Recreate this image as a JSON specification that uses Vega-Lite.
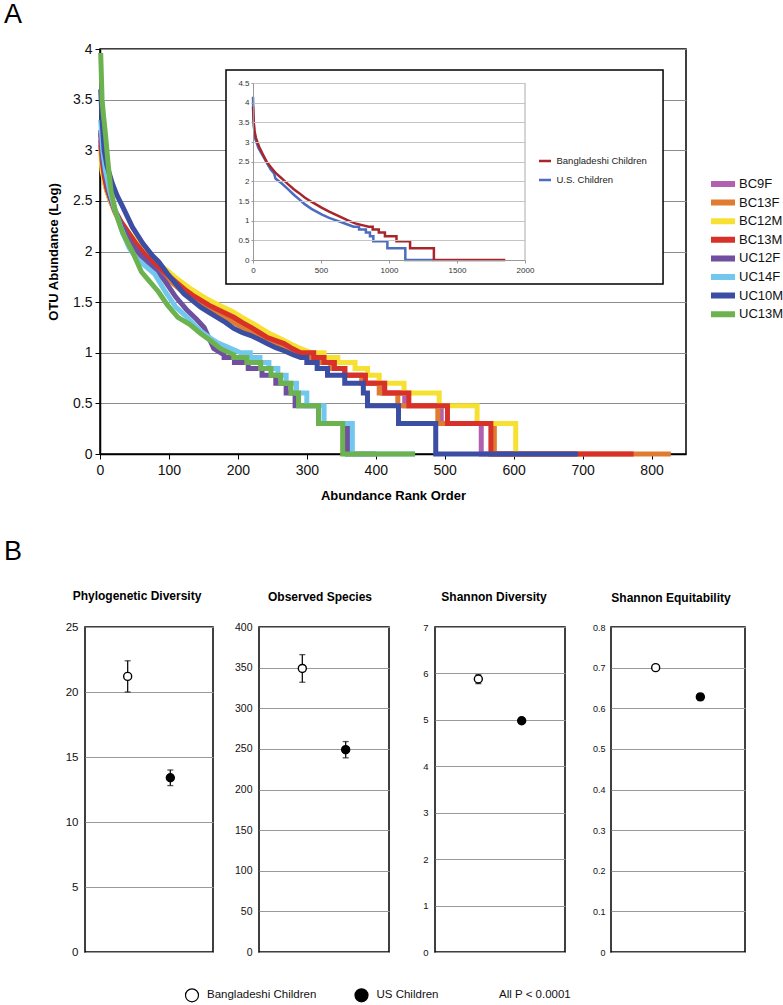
{
  "$schema": "https://vega.github.io/schema/vega-lite/v6.json",
  "padding": {"left": 3, "top": 0, "right": 0, "bottom": 0},
  "config": {
    "font": "Liberation Sans",
    "view": {"stroke": "#000", "strokeWidth": 1.5},
    "axis": {"labelFont": "Liberation Sans", "titleFont": "Liberation Sans", "labelColor": "#111", "titleColor": "#000", "domainColor": "#000", "tickColor": "#000", "gridColor": "#999", "labelFlush": false, "labelOverlap": false},
    "legend": {"labelFont": "Liberation Sans"},
    "title": {"font": "Liberation Sans", "color": "#000"}
  },
  "datasets": {
    "main": [
      {"s":"BC9F","r":1,"v":3.1},{"s":"BC9F","r":3,"v":2.85},{"s":"BC9F","r":6,"v":2.72},{"s":"BC9F","r":10,"v":2.6},{"s":"BC9F","r":15,"v":2.5},{"s":"BC9F","r":22,"v":2.4},{"s":"BC9F","r":30,"v":2.29},{"s":"BC9F","r":40,"v":2.18},{"s":"BC9F","r":52,"v":2.06},{"s":"BC9F","r":64,"v":1.96},{"s":"BC9F","r":75,"v":1.88},{"s":"BC9F","r":86,"v":1.82},{"s":"BC9F","r":98,"v":1.75},{"s":"BC9F","r":110,"v":1.68},{"s":"BC9F","r":122,"v":1.61},{"s":"BC9F","r":134,"v":1.55},{"s":"BC9F","r":146,"v":1.5},{"s":"BC9F","r":158,"v":1.45},{"s":"BC9F","r":170,"v":1.41},{"s":"BC9F","r":182,"v":1.37},{"s":"BC9F","r":194,"v":1.33},{"s":"BC9F","r":206,"v":1.28},{"s":"BC9F","r":219,"v":1.23},{"s":"BC9F","r":231,"v":1.18},{"s":"BC9F","r":243,"v":1.14},{"s":"BC9F","r":255,"v":1.1},{"s":"BC9F","r":267,"v":1.06},{"s":"BC9F","r":279,"v":1.02},{"s":"BC9F","r":285,"v":1.0},{"s":"BC9F","r":295,"v":1.0},{"s":"BC9F","r":295,"v":0.954},{"s":"BC9F","r":315,"v":0.954},{"s":"BC9F","r":315,"v":0.903},{"s":"BC9F","r":335,"v":0.903},{"s":"BC9F","r":335,"v":0.845},{"s":"BC9F","r":355,"v":0.845},{"s":"BC9F","r":355,"v":0.778},{"s":"BC9F","r":380,"v":0.778},{"s":"BC9F","r":380,"v":0.699},{"s":"BC9F","r":410,"v":0.699},{"s":"BC9F","r":410,"v":0.602},{"s":"BC9F","r":442,"v":0.602},{"s":"BC9F","r":442,"v":0.477},{"s":"BC9F","r":495,"v":0.477},{"s":"BC9F","r":495,"v":0.301},{"s":"BC9F","r":553,"v":0.301},{"s":"BC9F","r":553,"v":0},{"s":"BC9F","r":690,"v":0},
      {"s":"BC13F","r":1,"v":3.05},{"s":"BC13F","r":3,"v":2.85},{"s":"BC13F","r":6,"v":2.7},{"s":"BC13F","r":10,"v":2.6},{"s":"BC13F","r":15,"v":2.5},{"s":"BC13F","r":22,"v":2.38},{"s":"BC13F","r":30,"v":2.28},{"s":"BC13F","r":40,"v":2.17},{"s":"BC13F","r":52,"v":2.05},{"s":"BC13F","r":64,"v":1.95},{"s":"BC13F","r":75,"v":1.87},{"s":"BC13F","r":86,"v":1.8},{"s":"BC13F","r":98,"v":1.73},{"s":"BC13F","r":110,"v":1.66},{"s":"BC13F","r":122,"v":1.59},{"s":"BC13F","r":134,"v":1.53},{"s":"BC13F","r":146,"v":1.48},{"s":"BC13F","r":158,"v":1.43},{"s":"BC13F","r":170,"v":1.39},{"s":"BC13F","r":182,"v":1.34},{"s":"BC13F","r":194,"v":1.3},{"s":"BC13F","r":206,"v":1.25},{"s":"BC13F","r":219,"v":1.2},{"s":"BC13F","r":231,"v":1.15},{"s":"BC13F","r":243,"v":1.11},{"s":"BC13F","r":255,"v":1.07},{"s":"BC13F","r":267,"v":1.041},{"s":"BC13F","r":279,"v":1.0},{"s":"BC13F","r":300,"v":1.0},{"s":"BC13F","r":300,"v":0.954},{"s":"BC13F","r":315,"v":0.954},{"s":"BC13F","r":315,"v":0.903},{"s":"BC13F","r":335,"v":0.903},{"s":"BC13F","r":335,"v":0.845},{"s":"BC13F","r":355,"v":0.845},{"s":"BC13F","r":355,"v":0.778},{"s":"BC13F","r":380,"v":0.778},{"s":"BC13F","r":380,"v":0.699},{"s":"BC13F","r":405,"v":0.699},{"s":"BC13F","r":405,"v":0.602},{"s":"BC13F","r":432,"v":0.602},{"s":"BC13F","r":432,"v":0.477},{"s":"BC13F","r":490,"v":0.477},{"s":"BC13F","r":490,"v":0.301},{"s":"BC13F","r":572,"v":0.301},{"s":"BC13F","r":572,"v":0},{"s":"BC13F","r":828,"v":0},
      {"s":"BC12M","r":1,"v":3.0},{"s":"BC12M","r":3,"v":2.8},{"s":"BC12M","r":6,"v":2.7},{"s":"BC12M","r":10,"v":2.6},{"s":"BC12M","r":15,"v":2.5},{"s":"BC12M","r":22,"v":2.4},{"s":"BC12M","r":30,"v":2.3},{"s":"BC12M","r":40,"v":2.2},{"s":"BC12M","r":52,"v":2.1},{"s":"BC12M","r":64,"v":2.0},{"s":"BC12M","r":75,"v":1.93},{"s":"BC12M","r":86,"v":1.87},{"s":"BC12M","r":98,"v":1.81},{"s":"BC12M","r":110,"v":1.74},{"s":"BC12M","r":122,"v":1.68},{"s":"BC12M","r":134,"v":1.62},{"s":"BC12M","r":146,"v":1.57},{"s":"BC12M","r":158,"v":1.52},{"s":"BC12M","r":170,"v":1.48},{"s":"BC12M","r":182,"v":1.44},{"s":"BC12M","r":194,"v":1.4},{"s":"BC12M","r":206,"v":1.35},{"s":"BC12M","r":219,"v":1.3},{"s":"BC12M","r":231,"v":1.25},{"s":"BC12M","r":243,"v":1.2},{"s":"BC12M","r":255,"v":1.16},{"s":"BC12M","r":267,"v":1.12},{"s":"BC12M","r":279,"v":1.08},{"s":"BC12M","r":291,"v":1.04},{"s":"BC12M","r":308,"v":1.0},{"s":"BC12M","r":325,"v":1.0},{"s":"BC12M","r":325,"v":0.954},{"s":"BC12M","r":345,"v":0.954},{"s":"BC12M","r":345,"v":0.903},{"s":"BC12M","r":370,"v":0.903},{"s":"BC12M","r":370,"v":0.845},{"s":"BC12M","r":388,"v":0.845},{"s":"BC12M","r":388,"v":0.778},{"s":"BC12M","r":405,"v":0.778},{"s":"BC12M","r":405,"v":0.699},{"s":"BC12M","r":441,"v":0.699},{"s":"BC12M","r":441,"v":0.602},{"s":"BC12M","r":492,"v":0.602},{"s":"BC12M","r":492,"v":0.477},{"s":"BC12M","r":547,"v":0.477},{"s":"BC12M","r":547,"v":0.301},{"s":"BC12M","r":603,"v":0.301},{"s":"BC12M","r":603,"v":0},{"s":"BC12M","r":700,"v":0},
      {"s":"BC13M","r":1,"v":3.17},{"s":"BC13M","r":3,"v":2.9},{"s":"BC13M","r":6,"v":2.75},{"s":"BC13M","r":10,"v":2.62},{"s":"BC13M","r":15,"v":2.52},{"s":"BC13M","r":22,"v":2.4},{"s":"BC13M","r":30,"v":2.3},{"s":"BC13M","r":40,"v":2.2},{"s":"BC13M","r":52,"v":2.08},{"s":"BC13M","r":64,"v":1.98},{"s":"BC13M","r":75,"v":1.9},{"s":"BC13M","r":86,"v":1.84},{"s":"BC13M","r":98,"v":1.77},{"s":"BC13M","r":110,"v":1.7},{"s":"BC13M","r":122,"v":1.63},{"s":"BC13M","r":134,"v":1.57},{"s":"BC13M","r":146,"v":1.52},{"s":"BC13M","r":158,"v":1.47},{"s":"BC13M","r":170,"v":1.43},{"s":"BC13M","r":182,"v":1.39},{"s":"BC13M","r":194,"v":1.35},{"s":"BC13M","r":206,"v":1.3},{"s":"BC13M","r":219,"v":1.25},{"s":"BC13M","r":231,"v":1.2},{"s":"BC13M","r":243,"v":1.15},{"s":"BC13M","r":255,"v":1.12},{"s":"BC13M","r":267,"v":1.09},{"s":"BC13M","r":279,"v":1.041},{"s":"BC13M","r":291,"v":1.0},{"s":"BC13M","r":310,"v":1.0},{"s":"BC13M","r":310,"v":0.954},{"s":"BC13M","r":325,"v":0.954},{"s":"BC13M","r":325,"v":0.903},{"s":"BC13M","r":340,"v":0.903},{"s":"BC13M","r":340,"v":0.845},{"s":"BC13M","r":355,"v":0.845},{"s":"BC13M","r":355,"v":0.778},{"s":"BC13M","r":385,"v":0.778},{"s":"BC13M","r":385,"v":0.699},{"s":"BC13M","r":413,"v":0.699},{"s":"BC13M","r":413,"v":0.602},{"s":"BC13M","r":448,"v":0.602},{"s":"BC13M","r":448,"v":0.477},{"s":"BC13M","r":504,"v":0.477},{"s":"BC13M","r":504,"v":0.301},{"s":"BC13M","r":567,"v":0.301},{"s":"BC13M","r":567,"v":0},{"s":"BC13M","r":774,"v":0},
      {"s":"UC12F","r":1,"v":3.2},{"s":"UC12F","r":4,"v":2.9},{"s":"UC12F","r":8,"v":2.75},{"s":"UC12F","r":14,"v":2.55},{"s":"UC12F","r":22,"v":2.4},{"s":"UC12F","r":32,"v":2.25},{"s":"UC12F","r":45,"v":2.08},{"s":"UC12F","r":60,"v":1.95},{"s":"UC12F","r":75,"v":1.85},{"s":"UC12F","r":93,"v":1.72},{"s":"UC12F","r":110,"v":1.55},{"s":"UC12F","r":125,"v":1.43},{"s":"UC12F","r":140,"v":1.33},{"s":"UC12F","r":151,"v":1.25},{"s":"UC12F","r":158,"v":1.146},{"s":"UC12F","r":165,"v":1.041},{"s":"UC12F","r":180,"v":0.98},{"s":"UC12F","r":180,"v":0.954},{"s":"UC12F","r":195,"v":0.954},{"s":"UC12F","r":195,"v":0.903},{"s":"UC12F","r":215,"v":0.903},{"s":"UC12F","r":215,"v":0.845},{"s":"UC12F","r":235,"v":0.845},{"s":"UC12F","r":235,"v":0.778},{"s":"UC12F","r":255,"v":0.778},{"s":"UC12F","r":255,"v":0.699},{"s":"UC12F","r":270,"v":0.699},{"s":"UC12F","r":270,"v":0.602},{"s":"UC12F","r":283,"v":0.602},{"s":"UC12F","r":283,"v":0.477},{"s":"UC12F","r":317,"v":0.477},{"s":"UC12F","r":317,"v":0.301},{"s":"UC12F","r":359,"v":0.301},{"s":"UC12F","r":359,"v":0},{"s":"UC12F","r":400,"v":0},
      {"s":"UC14F","r":1,"v":3.3},{"s":"UC14F","r":4,"v":3.0},{"s":"UC14F","r":8,"v":2.8},{"s":"UC14F","r":14,"v":2.6},{"s":"UC14F","r":20,"v":2.45},{"s":"UC14F","r":30,"v":2.24},{"s":"UC14F","r":42,"v":2.04},{"s":"UC14F","r":52,"v":1.94},{"s":"UC14F","r":65,"v":1.86},{"s":"UC14F","r":79,"v":1.78},{"s":"UC14F","r":95,"v":1.6},{"s":"UC14F","r":110,"v":1.45},{"s":"UC14F","r":125,"v":1.36},{"s":"UC14F","r":145,"v":1.22},{"s":"UC14F","r":160,"v":1.146},{"s":"UC14F","r":170,"v":1.1},{"s":"UC14F","r":190,"v":1.041},{"s":"UC14F","r":204,"v":1.0},{"s":"UC14F","r":218,"v":1.0},{"s":"UC14F","r":218,"v":0.954},{"s":"UC14F","r":232,"v":0.954},{"s":"UC14F","r":232,"v":0.903},{"s":"UC14F","r":245,"v":0.903},{"s":"UC14F","r":245,"v":0.845},{"s":"UC14F","r":258,"v":0.845},{"s":"UC14F","r":258,"v":0.778},{"s":"UC14F","r":270,"v":0.778},{"s":"UC14F","r":270,"v":0.699},{"s":"UC14F","r":285,"v":0.699},{"s":"UC14F","r":285,"v":0.602},{"s":"UC14F","r":300,"v":0.602},{"s":"UC14F","r":300,"v":0.477},{"s":"UC14F","r":325,"v":0.477},{"s":"UC14F","r":325,"v":0.301},{"s":"UC14F","r":366,"v":0.301},{"s":"UC14F","r":366,"v":0},{"s":"UC14F","r":457,"v":0},
      {"s":"UC10M","r":1,"v":3.6},{"s":"UC10M","r":3,"v":3.3},{"s":"UC10M","r":6,"v":3.0},{"s":"UC10M","r":10,"v":2.85},{"s":"UC10M","r":18,"v":2.67},{"s":"UC10M","r":25,"v":2.55},{"s":"UC10M","r":33,"v":2.44},{"s":"UC10M","r":47,"v":2.24},{"s":"UC10M","r":62,"v":2.08},{"s":"UC10M","r":76,"v":1.96},{"s":"UC10M","r":85,"v":1.9},{"s":"UC10M","r":98,"v":1.78},{"s":"UC10M","r":110,"v":1.68},{"s":"UC10M","r":122,"v":1.58},{"s":"UC10M","r":135,"v":1.51},{"s":"UC10M","r":146,"v":1.45},{"s":"UC10M","r":158,"v":1.4},{"s":"UC10M","r":170,"v":1.35},{"s":"UC10M","r":182,"v":1.3},{"s":"UC10M","r":194,"v":1.24},{"s":"UC10M","r":206,"v":1.2},{"s":"UC10M","r":219,"v":1.17},{"s":"UC10M","r":231,"v":1.13},{"s":"UC10M","r":243,"v":1.09},{"s":"UC10M","r":255,"v":1.05},{"s":"UC10M","r":267,"v":1.02},{"s":"UC10M","r":280,"v":0.98},{"s":"UC10M","r":291,"v":0.954},{"s":"UC10M","r":300,"v":0.954},{"s":"UC10M","r":300,"v":0.903},{"s":"UC10M","r":315,"v":0.903},{"s":"UC10M","r":315,"v":0.845},{"s":"UC10M","r":330,"v":0.845},{"s":"UC10M","r":330,"v":0.778},{"s":"UC10M","r":355,"v":0.778},{"s":"UC10M","r":355,"v":0.699},{"s":"UC10M","r":382,"v":0.699},{"s":"UC10M","r":382,"v":0.602},{"s":"UC10M","r":388,"v":0.602},{"s":"UC10M","r":388,"v":0.477},{"s":"UC10M","r":433,"v":0.477},{"s":"UC10M","r":433,"v":0.301},{"s":"UC10M","r":487,"v":0.301},{"s":"UC10M","r":487,"v":0},{"s":"UC10M","r":693,"v":0},
      {"s":"UC13M","r":1,"v":3.96},{"s":"UC13M","r":3,"v":3.5},{"s":"UC13M","r":5,"v":3.35},{"s":"UC13M","r":8,"v":3.15},{"s":"UC13M","r":12,"v":2.85},{"s":"UC13M","r":16,"v":2.6},{"s":"UC13M","r":23,"v":2.38},{"s":"UC13M","r":33,"v":2.18},{"s":"UC13M","r":47,"v":2.0},{"s":"UC13M","r":60,"v":1.8},{"s":"UC13M","r":70,"v":1.72},{"s":"UC13M","r":85,"v":1.6},{"s":"UC13M","r":98,"v":1.47},{"s":"UC13M","r":113,"v":1.35},{"s":"UC13M","r":130,"v":1.28},{"s":"UC13M","r":146,"v":1.19},{"s":"UC13M","r":160,"v":1.12},{"s":"UC13M","r":175,"v":1.04},{"s":"UC13M","r":194,"v":0.98},{"s":"UC13M","r":194,"v":0.954},{"s":"UC13M","r":213,"v":0.954},{"s":"UC13M","r":213,"v":0.903},{"s":"UC13M","r":233,"v":0.903},{"s":"UC13M","r":233,"v":0.845},{"s":"UC13M","r":248,"v":0.845},{"s":"UC13M","r":248,"v":0.778},{"s":"UC13M","r":262,"v":0.778},{"s":"UC13M","r":262,"v":0.699},{"s":"UC13M","r":277,"v":0.699},{"s":"UC13M","r":277,"v":0.602},{"s":"UC13M","r":288,"v":0.602},{"s":"UC13M","r":288,"v":0.477},{"s":"UC13M","r":317,"v":0.477},{"s":"UC13M","r":317,"v":0.301},{"s":"UC13M","r":352,"v":0.301},{"s":"UC13M","r":352,"v":0},{"s":"UC13M","r":457,"v":0}
    ],
    "inset": [
      {"s":"U.S. Children","r":0,"v":4.15},{"s":"U.S. Children","r":3,"v":3.7},{"s":"U.S. Children","r":8,"v":3.35},{"s":"U.S. Children","r":15,"v":3.1},{"s":"U.S. Children","r":40,"v":2.85},{"s":"U.S. Children","r":72,"v":2.65},{"s":"U.S. Children","r":100,"v":2.48},{"s":"U.S. Children","r":130,"v":2.3},{"s":"U.S. Children","r":155,"v":2.2},{"s":"U.S. Children","r":165,"v":2.07},{"s":"U.S. Children","r":210,"v":1.95},{"s":"U.S. Children","r":257,"v":1.8},{"s":"U.S. Children","r":300,"v":1.66},{"s":"U.S. Children","r":340,"v":1.54},{"s":"U.S. Children","r":380,"v":1.42},{"s":"U.S. Children","r":430,"v":1.3},{"s":"U.S. Children","r":504,"v":1.16},{"s":"U.S. Children","r":560,"v":1.07},{"s":"U.S. Children","r":627,"v":0.99},{"s":"U.S. Children","r":690,"v":0.91},{"s":"U.S. Children","r":740,"v":0.845},{"s":"U.S. Children","r":780,"v":0.845},{"s":"U.S. Children","r":780,"v":0.778},{"s":"U.S. Children","r":830,"v":0.778},{"s":"U.S. Children","r":830,"v":0.699},{"s":"U.S. Children","r":860,"v":0.699},{"s":"U.S. Children","r":860,"v":0.602},{"s":"U.S. Children","r":885,"v":0.602},{"s":"U.S. Children","r":885,"v":0.477},{"s":"U.S. Children","r":988,"v":0.477},{"s":"U.S. Children","r":988,"v":0.301},{"s":"U.S. Children","r":1120,"v":0.301},{"s":"U.S. Children","r":1120,"v":0},{"s":"U.S. Children","r":1325,"v":0},
      {"s":"Bangladeshi Children","r":0,"v":3.9},{"s":"Bangladeshi Children","r":5,"v":3.5},{"s":"Bangladeshi Children","r":10,"v":3.3},{"s":"Bangladeshi Children","r":22,"v":3.1},{"s":"Bangladeshi Children","r":45,"v":2.88},{"s":"Bangladeshi Children","r":72,"v":2.69},{"s":"Bangladeshi Children","r":100,"v":2.5},{"s":"Bangladeshi Children","r":133,"v":2.35},{"s":"Bangladeshi Children","r":170,"v":2.2},{"s":"Bangladeshi Children","r":210,"v":2.08},{"s":"Bangladeshi Children","r":257,"v":1.93},{"s":"Bangladeshi Children","r":300,"v":1.8},{"s":"Bangladeshi Children","r":340,"v":1.7},{"s":"Bangladeshi Children","r":380,"v":1.59},{"s":"Bangladeshi Children","r":420,"v":1.5},{"s":"Bangladeshi Children","r":460,"v":1.42},{"s":"Bangladeshi Children","r":504,"v":1.33},{"s":"Bangladeshi Children","r":560,"v":1.23},{"s":"Bangladeshi Children","r":627,"v":1.12},{"s":"Bangladeshi Children","r":690,"v":1.02},{"s":"Bangladeshi Children","r":751,"v":0.93},{"s":"Bangladeshi Children","r":810,"v":0.88},{"s":"Bangladeshi Children","r":850,"v":0.845},{"s":"Bangladeshi Children","r":880,"v":0.845},{"s":"Bangladeshi Children","r":880,"v":0.778},{"s":"Bangladeshi Children","r":925,"v":0.778},{"s":"Bangladeshi Children","r":925,"v":0.699},{"s":"Bangladeshi Children","r":970,"v":0.699},{"s":"Bangladeshi Children","r":970,"v":0.602},{"s":"Bangladeshi Children","r":1055,"v":0.602},{"s":"Bangladeshi Children","r":1055,"v":0.477},{"s":"Bangladeshi Children","r":1155,"v":0.477},{"s":"Bangladeshi Children","r":1155,"v":0.301},{"s":"Bangladeshi Children","r":1330,"v":0.301},{"s":"Bangladeshi Children","r":1330,"v":0},{"s":"Bangladeshi Children","r":1855,"v":0}
    ],
    "div": [
      {"m":"PD","g":"Bangladeshi Children","v":21.2,"lo":20.0,"hi":22.4},
      {"m":"PD","g":"US Children","v":13.4,"lo":12.8,"hi":14.0},
      {"m":"OS","g":"Bangladeshi Children","v":349,"lo":332,"hi":366},
      {"m":"OS","g":"US Children","v":249,"lo":239,"hi":259},
      {"m":"SD","g":"Bangladeshi Children","v":5.88,"lo":5.78,"hi":5.97},
      {"m":"SD","g":"US Children","v":4.98,"lo":4.93,"hi":5.03},
      {"m":"SE","g":"Bangladeshi Children","v":0.700,"lo":0.695,"hi":0.705},
      {"m":"SE","g":"US Children","v":0.628,"lo":0.620,"hi":0.636}
    ]
  },
  "resolve": {"scale": {"color": "independent", "stroke": "independent", "fill": "independent"}},
  "spacing": 35,
  "vconcat": [
    {
      "bounds": "flush",
      "spacing": 14,
      "resolve": {"scale": {"color": "independent", "stroke": "independent"}},
      "hconcat": [
        {
          "width": 1, "height": 1,
          "view": {"stroke": null},
          "data": {"values": []},
          "mark": "point"
        },
        {
          "title": {"text": "A", "anchor": "start", "frame": "group", "fontSize": 27, "fontWeight": "normal", "dx": -96, "offset": 13},
          "width": 586,
          "height": 405,
          "resolve": {"scale": {"x": "independent", "y": "independent"}},
          "layer": [
            {
              "data": {"name": "main"},
              "mark": {"type": "line", "strokeWidth": 5},
              "encoding": {
                "x": {"field": "r", "type": "quantitative", "scale": {"domain": [0, 850], "nice": false, "zero": false},
                      "axis": {"title": "Abundance Rank Order", "values": [0,100,200,300,400,500,600,700,800], "grid": false, "labelFontSize": 14, "tickSize": 5, "labelPadding": 4, "titleFontSize": 13, "titleFontWeight": "bold", "titlePadding": 12, "domainWidth": 1.5}},
                "y": {"field": "v", "type": "quantitative", "scale": {"domain": [0, 4], "nice": false},
                      "axis": {"title": "OTU Abundance (Log)", "values": [0,0.5,1,1.5,2,2.5,3,3.5,4], "format": ".1~f", "grid": true, "gridColor": "#8c8c8c", "labelFontSize": 14, "tickSize": 5, "labelPadding": 3, "titleFontSize": 13, "titleFontWeight": "bold", "titlePadding": 12, "domainWidth": 1.5}},
                "order": {"value": null},
                "color": {"field": "s", "type": "nominal",
                          "scale": {"domain": ["BC9F","BC13F","BC12M","BC13M","UC12F","UC14F","UC10M","UC13M"], "range": ["#b260b0","#e07c30","#f6e132","#d8312a","#6f4fa0","#72c7ee","#3b4ea3","#6cb24f"]},
                          "legend": {"orient": "none", "legendX": 608, "legendY": 127, "title": null, "symbolType": "stroke", "symbolSize": 576, "symbolStrokeWidth": 6, "clipHeight": 16, "rowPadding": 2.6, "labelFontSize": 13, "labelOffset": 1, "labelColor": "#111"}}
              }
            },
            {
              "layer": [
                {
                  "data": {"values": [{}]},
                  "mark": {"type": "rect", "fill": "#ffffff", "stroke": "#000000", "strokeWidth": 1.5},
                  "encoding": {
                    "x": {"datum": -198.5, "type": "quantitative", "scale": {"domain": [0, 2000], "range": [153, 425], "nice": false, "zero": false},
                          "axis": {"orient": "bottom", "offset": -194, "title": null, "values": [0,500,1000,1500,2000], "format": "d", "grid": false, "labelFontSize": 8, "labelColor": "#333", "domainColor": "#999", "tickColor": "#999", "tickSize": 3, "labelPadding": 3, "zindex": 1}},
                    "x2": {"datum": 3015},
                    "y": {"datum": -0.61, "type": "quantitative", "scale": {"domain": [0, 4.5], "range": [211, 34], "nice": false, "zero": false},
                          "axis": {"orient": "left", "offset": -153, "title": null, "values": [0,0.5,1,1.5,2,2.5,3,3.5,4,4.5], "format": ".1~f", "grid": true, "gridColor": "#c4c4c4", "labelFontSize": 8, "labelColor": "#333", "domainColor": "#999", "tickColor": "#999", "tickSize": 2, "labelPadding": 2, "zindex": 1}},
                    "y2": {"datum": 4.83}
                  }
                },
                {
                  "data": {"values": [{}]},
                  "mark": {"type": "rule", "color": "#aaaaaa", "strokeWidth": 1},
                  "encoding": {
                    "x": {"datum": 2000, "type": "quantitative"},
                    "y": {"datum": 0, "type": "quantitative"},
                    "y2": {"datum": 4.5}
                  }
                },
                {
                  "data": {"name": "inset"},
                  "mark": {"type": "line", "strokeWidth": 2.5},
                  "encoding": {
                    "x": {"field": "r", "type": "quantitative"},
                    "y": {"field": "v", "type": "quantitative"},
                    "order": {"value": null},
                    "stroke": {"field": "s", "type": "nominal",
                               "scale": {"domain": ["Bangladeshi Children", "U.S. Children"], "range": ["#a8262b", "#4b6cc1"]},
                               "legend": {"orient": "none", "legendX": 437.5, "legendY": 106, "title": null, "symbolType": "stroke", "symbolSize": 144, "symbolStrokeWidth": 2.5, "clipHeight": 12, "rowPadding": 7, "labelFontSize": 9.5, "labelOffset": 4, "labelColor": "#222"}}
                  }
                }
              ]
            }
          ]
        }
      ]
    },
    {
      "title": {"text": "B", "anchor": "start", "frame": "group", "fontSize": 27, "fontWeight": "normal", "dx": -81, "offset": 23},
      "bounds": "flush",
      "spacing": 46,
      "resolve": {"scale": {"fill": "independent", "stroke": "independent"}},
      "hconcat": [
        {
          "data": {"name": "div"},
          "width": 128, "height": 325,
          "title": {"text": "Phylogenetic Diversity", "fontSize": 12, "fontWeight": "bold", "frame": "group", "anchor": "middle", "dx": -12, "offset": 18},
          "transform": [{"filter": "datum.m == 'PD'"}],
          "encoding": {"x": {"field": "g", "type": "nominal", "scale": {"type": "point", "padding": 1, "domain": ["Bangladeshi Children", "US Children"]}, "axis": null}},
          "layer": [
            {"mark": {"type": "rule", "color": "#111", "strokeWidth": 1.3},
             "encoding": {"y": {"field": "lo", "type": "quantitative", "scale": {"domain": [0, 25], "nice": false}, "axis": {"title": null, "values": [0,5,10,15,20,25], "grid": true, "domain": false, "ticks": false, "labelPadding": 7, "labelFontSize": 11.5}}, "y2": {"field": "hi"}}},
            {"mark": {"type": "tick", "color": "#111", "size": 6, "thickness": 1.3},
             "encoding": {"y": {"field": "lo", "type": "quantitative", "scale": {"domain": [0, 25], "nice": false}, "axis": {"title": null, "values": [0,5,10,15,20,25], "grid": true, "domain": false, "ticks": false, "labelPadding": 7, "labelFontSize": 11.5}}}},
            {"mark": {"type": "tick", "color": "#111", "size": 6, "thickness": 1.3},
             "encoding": {"y": {"field": "hi", "type": "quantitative", "scale": {"domain": [0, 25], "nice": false}, "axis": {"title": null, "values": [0,5,10,15,20,25], "grid": true, "domain": false, "ticks": false, "labelPadding": 7, "labelFontSize": 11.5}}}},
            {"mark": {"type": "point", "shape": "circle", "size": 64, "strokeWidth": 1.4, "opacity": 1},
             "encoding": {
               "y": {"field": "v", "type": "quantitative", "scale": {"domain": [0, 25], "nice": false}, "axis": {"title": null, "values": [0,5,10,15,20,25], "grid": true, "domain": false, "ticks": false, "labelPadding": 7, "labelFontSize": 11.5}},
               "fill": {"field": "g", "type": "nominal", "scale": {"domain": ["Bangladeshi Children", "US Children", "All P < 0.0001"], "range": ["#ffffff", "#000000", "transparent"]},
                        "legend": {"orient": "none", "legendX": 99.5, "legendY": 360.5, "direction": "horizontal", "title": null, "symbolType": "circle", "symbolSize": 169, "symbolStrokeWidth": 1.2, "labelFontSize": 11.5, "labelOffset": 7.5, "columnPadding": 35.5, "labelColor": "#111"}},
               "stroke": {"field": "g", "type": "nominal", "scale": {"domain": ["Bangladeshi Children", "US Children", "All P < 0.0001"], "range": ["#000000", "#000000", "transparent"]},
                        "legend": {"orient": "none", "legendX": 99.5, "legendY": 360.5, "direction": "horizontal", "title": null, "symbolType": "circle", "symbolSize": 169, "symbolStrokeWidth": 1.2, "labelFontSize": 11.5, "labelOffset": 7.5, "columnPadding": 35.5, "labelColor": "#111"}}
             }}
          ]
        },
        {
          "data": {"name": "div"},
          "width": 130, "height": 325,
          "title": {"text": "Observed Species", "fontSize": 12, "fontWeight": "bold", "frame": "group", "anchor": "middle", "dx": -4, "offset": 18},
          "transform": [{"filter": "datum.m == 'OS'"}],
          "encoding": {"x": {"field": "g", "type": "nominal", "scale": {"type": "point", "padding": 1, "domain": ["Bangladeshi Children", "US Children"]}, "axis": null}},
          "layer": [
            {"mark": {"type": "rule", "color": "#111", "strokeWidth": 1.3},
             "encoding": {"y": {"field": "lo", "type": "quantitative", "scale": {"domain": [0, 400], "nice": false}, "axis": {"title": null, "values": [0,50,100,150,200,250,300,350,400], "grid": true, "domain": false, "ticks": false, "labelPadding": 7, "labelFontSize": 10.5}}, "y2": {"field": "hi"}}},
            {"mark": {"type": "tick", "color": "#111", "size": 6, "thickness": 1.3},
             "encoding": {"y": {"field": "lo", "type": "quantitative", "scale": {"domain": [0, 400], "nice": false}, "axis": {"title": null, "values": [0,50,100,150,200,250,300,350,400], "grid": true, "domain": false, "ticks": false, "labelPadding": 7, "labelFontSize": 10.5}}}},
            {"mark": {"type": "tick", "color": "#111", "size": 6, "thickness": 1.3},
             "encoding": {"y": {"field": "hi", "type": "quantitative", "scale": {"domain": [0, 400], "nice": false}, "axis": {"title": null, "values": [0,50,100,150,200,250,300,350,400], "grid": true, "domain": false, "ticks": false, "labelPadding": 7, "labelFontSize": 10.5}}}},
            {"mark": {"type": "point", "shape": "circle", "size": 64, "strokeWidth": 1.4, "opacity": 1},
             "encoding": {
               "y": {"field": "v", "type": "quantitative", "scale": {"domain": [0, 400], "nice": false}, "axis": {"title": null, "values": [0,50,100,150,200,250,300,350,400], "grid": true, "domain": false, "ticks": false, "labelPadding": 7, "labelFontSize": 10.5}},
               "fill": {"field": "g", "type": "nominal", "scale": {"domain": ["Bangladeshi Children", "US Children", "All P < 0.0001"], "range": ["#ffffff", "#000000", "transparent"]}, "legend": null},
               "stroke": {"field": "g", "type": "nominal", "scale": {"domain": ["Bangladeshi Children", "US Children", "All P < 0.0001"], "range": ["#000000", "#000000", "transparent"]}, "legend": null}
             }}
          ]
        },
        {
          "data": {"name": "div"},
          "width": 130, "height": 325,
          "title": {"text": "Shannon Diversity", "fontSize": 12, "fontWeight": "bold", "frame": "group", "anchor": "middle", "dx": -6, "offset": 18},
          "transform": [{"filter": "datum.m == 'SD'"}],
          "encoding": {"x": {"field": "g", "type": "nominal", "scale": {"type": "point", "padding": 1, "domain": ["Bangladeshi Children", "US Children"]}, "axis": null}},
          "layer": [
            {"mark": {"type": "rule", "color": "#111", "strokeWidth": 1.3},
             "encoding": {"y": {"field": "lo", "type": "quantitative", "scale": {"domain": [0, 7], "nice": false}, "axis": {"title": null, "values": [0,1,2,3,4,5,6,7], "grid": true, "domain": false, "ticks": false, "labelPadding": 7, "labelFontSize": 9.5}}, "y2": {"field": "hi"}}},
            {"mark": {"type": "tick", "color": "#111", "size": 6, "thickness": 1.3},
             "encoding": {"y": {"field": "lo", "type": "quantitative", "scale": {"domain": [0, 7], "nice": false}, "axis": {"title": null, "values": [0,1,2,3,4,5,6,7], "grid": true, "domain": false, "ticks": false, "labelPadding": 7, "labelFontSize": 9.5}}}},
            {"mark": {"type": "tick", "color": "#111", "size": 6, "thickness": 1.3},
             "encoding": {"y": {"field": "hi", "type": "quantitative", "scale": {"domain": [0, 7], "nice": false}, "axis": {"title": null, "values": [0,1,2,3,4,5,6,7], "grid": true, "domain": false, "ticks": false, "labelPadding": 7, "labelFontSize": 9.5}}}},
            {"mark": {"type": "point", "shape": "circle", "size": 64, "strokeWidth": 1.4, "opacity": 1},
             "encoding": {
               "y": {"field": "v", "type": "quantitative", "scale": {"domain": [0, 7], "nice": false}, "axis": {"title": null, "values": [0,1,2,3,4,5,6,7], "grid": true, "domain": false, "ticks": false, "labelPadding": 7, "labelFontSize": 9.5}},
               "fill": {"field": "g", "type": "nominal", "scale": {"domain": ["Bangladeshi Children", "US Children", "All P < 0.0001"], "range": ["#ffffff", "#000000", "transparent"]}, "legend": null},
               "stroke": {"field": "g", "type": "nominal", "scale": {"domain": ["Bangladeshi Children", "US Children", "All P < 0.0001"], "range": ["#000000", "#000000", "transparent"]}, "legend": null}
             }}
          ]
        },
        {
          "data": {"name": "div"},
          "width": 134, "height": 325,
          "title": {"text": "Shannon Equitability", "fontSize": 12, "fontWeight": "bold", "frame": "group", "anchor": "middle", "dx": -7, "offset": 18},
          "transform": [{"filter": "datum.m == 'SE'"}],
          "encoding": {"x": {"field": "g", "type": "nominal", "scale": {"type": "point", "padding": 1, "domain": ["Bangladeshi Children", "US Children"]}, "axis": null}},
          "layer": [
            {"mark": {"type": "rule", "color": "#111", "strokeWidth": 1.3},
             "encoding": {"y": {"field": "lo", "type": "quantitative", "scale": {"domain": [0, 0.8], "nice": false}, "axis": {"title": null, "values": [0,0.1,0.2,0.3,0.4,0.5,0.6,0.7,0.8], "format": ".1~f", "grid": true, "domain": false, "ticks": false, "labelPadding": 6, "labelFontSize": 9}}, "y2": {"field": "hi"}}},
            {"mark": {"type": "tick", "color": "#111", "size": 6, "thickness": 1.3},
             "encoding": {"y": {"field": "lo", "type": "quantitative", "scale": {"domain": [0, 0.8], "nice": false}, "axis": {"title": null, "values": [0,0.1,0.2,0.3,0.4,0.5,0.6,0.7,0.8], "format": ".1~f", "grid": true, "domain": false, "ticks": false, "labelPadding": 6, "labelFontSize": 9}}}},
            {"mark": {"type": "tick", "color": "#111", "size": 6, "thickness": 1.3},
             "encoding": {"y": {"field": "hi", "type": "quantitative", "scale": {"domain": [0, 0.8], "nice": false}, "axis": {"title": null, "values": [0,0.1,0.2,0.3,0.4,0.5,0.6,0.7,0.8], "format": ".1~f", "grid": true, "domain": false, "ticks": false, "labelPadding": 6, "labelFontSize": 9}}}},
            {"mark": {"type": "point", "shape": "circle", "size": 64, "strokeWidth": 1.4, "opacity": 1},
             "encoding": {
               "y": {"field": "v", "type": "quantitative", "scale": {"domain": [0, 0.8], "nice": false}, "axis": {"title": null, "values": [0,0.1,0.2,0.3,0.4,0.5,0.6,0.7,0.8], "format": ".1~f", "grid": true, "domain": false, "ticks": false, "labelPadding": 6, "labelFontSize": 9}},
               "fill": {"field": "g", "type": "nominal", "scale": {"domain": ["Bangladeshi Children", "US Children", "All P < 0.0001"], "range": ["#ffffff", "#000000", "transparent"]}, "legend": null},
               "stroke": {"field": "g", "type": "nominal", "scale": {"domain": ["Bangladeshi Children", "US Children", "All P < 0.0001"], "range": ["#000000", "#000000", "transparent"]}, "legend": null}
             }}
          ]
        }
      ]
    }
  ]
}
